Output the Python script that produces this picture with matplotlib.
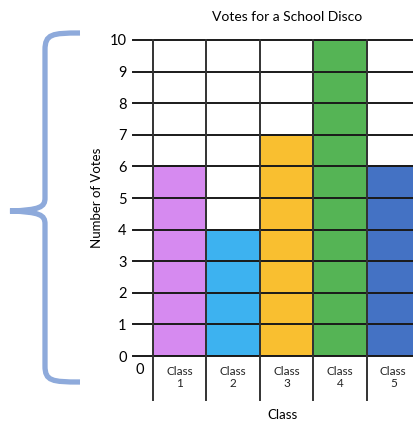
import matplotlib.pyplot as plt
from matplotlib.path import Path
from matplotlib.patches import PathPatch

plt.rcParams['font.family'] = ['Lato', 'DejaVu Sans']

classes = ["Class\n1", "Class\n2", "Class\n3", "Class\n4", "Class\n5"]
votes = [6, 4, 7, 10, 6]
colors = ["#D68AF0", "#3DB2F0", "#F9BF30", "#55B455", "#4472C4"]

W, H = 414, 423
fig = plt.figure(figsize=(W / 100, H / 100), dpi=100)
ax = fig.add_axes([153 / W, 1 - 356 / H, 267 / W, 316 / H])

x = range(len(classes))
ax.bar([i + 0.5 for i in x], votes, width=1.0, color=colors, edgecolor="#222222",
       linewidth=1.2, zorder=1)

ax.set_xlim(0, len(classes))
ax.set_ylim(0, 10)

# grid lines
for yv in range(0, 11):
    ax.plot([-0.38, len(classes)], [yv, yv], color="#1a1a1a", lw=1.4,
            clip_on=False, zorder=3)
for xv in range(0, len(classes) + 1):
    ax.plot([xv, xv], [-1.4, 10], color="#333333", lw=1.4,
            clip_on=False, zorder=3)

for s in ax.spines.values():
    s.set_visible(False)
ax.set_xticks([])
ax.set_yticks(range(0, 11))
ax.tick_params(axis="y", length=0, pad=19, labelsize=10.5)

for i, c in enumerate(classes):
    ax.text(i + 0.5, -0.68, c, ha="center", va="center", fontsize=8.5,
            color="#222222", linespacing=1.05)
ax.text(-0.25, -0.45, "0", ha="center", va="center", fontsize=10.5)

fig.text(97 / W, 1 - 198 / H, "Number of Votes", rotation=90, ha="center",
         va="center", fontsize=9.5)
fig.text(283 / W, 1 - 415 / H, "Class", ha="center", va="center", fontsize=9.5)
fig.text(287 / W, 1 - 17 / H, "Votes for a School Disco", ha="center",
         va="center", fontsize=10)

# decorative brace on the left
pts = [(80, 33), (52, 33), (45, 34), (45, 50),
       (45, 198), (45, 207), (40, 210), (10, 211)]
pts2 = [(10, 211), (40, 212), (45, 215), (45, 224),
        (45, 366), (45, 381), (52, 382), (80, 382)]
verts = pts + pts2[1:]
codes = [Path.MOVETO, Path.CURVE4, Path.CURVE4, Path.CURVE4,
         Path.LINETO, Path.CURVE4, Path.CURVE4, Path.CURVE4,
         Path.CURVE4, Path.CURVE4, Path.CURVE4,
         Path.LINETO, Path.CURVE4, Path.CURVE4, Path.CURVE4]
verts = [(vx / W, 1 - vy / H) for vx, vy in verts]
fig.add_artist(PathPatch(Path(verts, codes), transform=fig.transFigure,
                         fill=False, edgecolor="#8EAADB", lw=3.8,
                         capstyle="butt"))

fig.savefig("out.png", dpi=100)
